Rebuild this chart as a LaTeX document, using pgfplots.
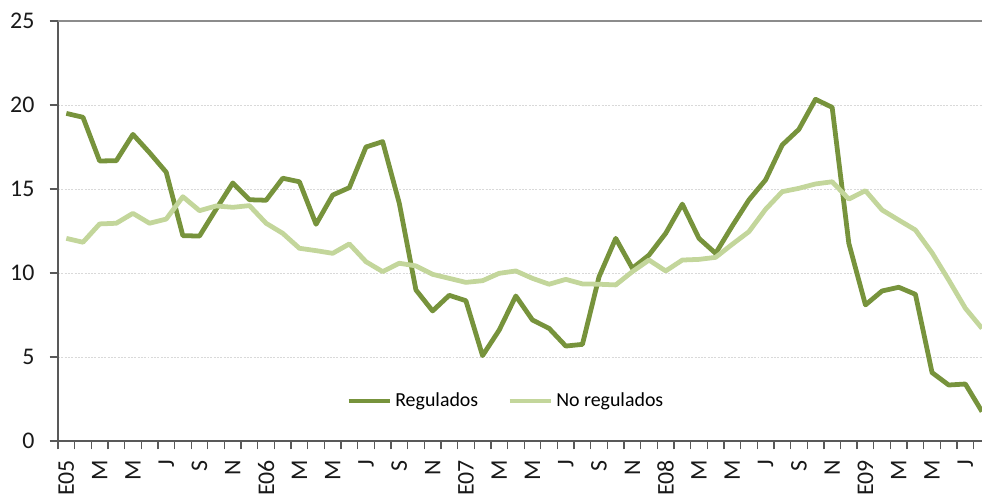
\documentclass[border=0pt]{standalone}
\usepackage{pgfplots}
\pgfplotsset{compat=1.18}
\usepackage{fontspec}
\setmainfont{Carlito}
\definecolor{reg}{HTML}{77933C}
\definecolor{noreg}{HTML}{C3D69B}
\begin{document}
\begin{tikzpicture}
\begin{axis}[
  scale only axis,
  width=24.49cm, height=11.13cm,
  xmin=-0.5, xmax=55,
  ymin=0, ymax=25,
  axis lines=left,
  axis line style={-, black!65, line width=1.2pt},
  ytick={0,5,10,15,20},
  extra y ticks={25},
  extra y tick style={grid style={black!45, solid, line width=1pt}},
  ymajorgrids,
  grid style={black!15, dash pattern=on 1.5pt off 1pt, line width=0.6pt},
  xtick={0,2,...,54},
  xticklabels={E05,M,M,J,S,N,E06,M,M,J,S,N,E07,M,M,J,S,N,E08,M,M,J,S,N,E09,M,M,J},
  x tick label style={rotate=90, anchor=east, inner sep=0pt, font=\fontsize{18}{20}\selectfont, black!90},
  y tick label style={font=\fontsize{18}{20}\selectfont, black!90},
  major x tick style={draw=none},
  minor xtick={-0.5,0.5,...,54.5},
  minor x tick style={black!65, line width=1pt},
  minor tick length=0.22cm,
  major tick length=0.22cm,
  tick align=outside,
  ytick style={black!65, line width=1pt},
  xticklabel shift=8pt,
  yticklabel shift=8pt,
  /pgf/number format/assume math mode=true,
  legend style={at={(0.485,0.095)}, anchor=center, draw=none, fill=none,
    legend columns=2, font=\fontsize{15}{18}\selectfont,
    /tikz/every even column/.append style={column sep=0.7cm}},
  legend image code/.code={\draw[#1, line width=3.6pt] (0cm,0cm) -- (1.1cm,0cm);},
]
\addplot[reg, line width=3.6pt, line join=round] coordinates {
(0,19.5)(1,19.27)(2,16.67)(3,16.68)(4,18.25)(5,17.16)(6,16.0)(7,12.22)(8,12.2)(9,13.8)
(10,15.36)(11,14.36)(12,14.33)(13,15.64)(14,15.43)(15,12.9)(16,14.64)(17,15.08)(18,17.5)(19,17.82)
(20,14.15)(21,8.99)(22,7.74)(23,8.67)(24,8.35)(25,5.08)(26,6.6)(27,8.63)(28,7.2)(29,6.7)
(30,5.65)(31,5.75)(32,9.78)(33,12.06)(34,10.28)(35,11.07)(36,12.36)(37,14.1)(38,12.06)(39,11.17)
(40,12.8)(41,14.35)(42,15.54)(43,17.62)(44,18.55)(45,20.34)(46,19.86)(47,11.77)(48,8.1)(49,8.93)
(50,9.15)(51,8.73)(52,4.07)(53,3.33)(54,3.39)(55,1.75)
};
\addlegendentry{Regulados}
\addplot[noreg, line width=3.6pt, line join=round] coordinates {
(0,12.06)(1,11.83)(2,12.92)(3,12.96)(4,13.55)(5,12.96)(6,13.21)(7,14.54)(8,13.71)(9,13.99)
(10,13.91)(11,14.01)(12,12.96)(13,12.36)(14,11.47)(15,11.33)(16,11.17)(17,11.73)(18,10.67)(19,10.08)
(20,10.58)(21,10.42)(22,9.92)(23,9.68)(24,9.44)(25,9.54)(26,9.98)(27,10.12)(28,9.68)(29,9.33)
(30,9.62)(31,9.35)(32,9.33)(33,9.29)(34,10.08)(35,10.77)(36,10.12)(37,10.77)(38,10.81)(39,10.93)
(40,11.71)(41,12.46)(42,13.79)(43,14.84)(44,15.04)(45,15.3)(46,15.43)(47,14.4)(48,14.9)(49,13.75)
(50,13.15)(51,12.56)(52,11.2)(53,9.58)(54,7.9)(55,6.7)
};
\addlegendentry{No regulados}
\coordinate (ll) at (rel axis cs:0,0);
\coordinate (ur) at (rel axis cs:1,1);
\end{axis}
\pgfresetboundingbox
\path ([xshift=-1.537cm,yshift=-1.48cm]ll) rectangle ([yshift=0.557cm]ur);
\end{tikzpicture}
\end{document}
